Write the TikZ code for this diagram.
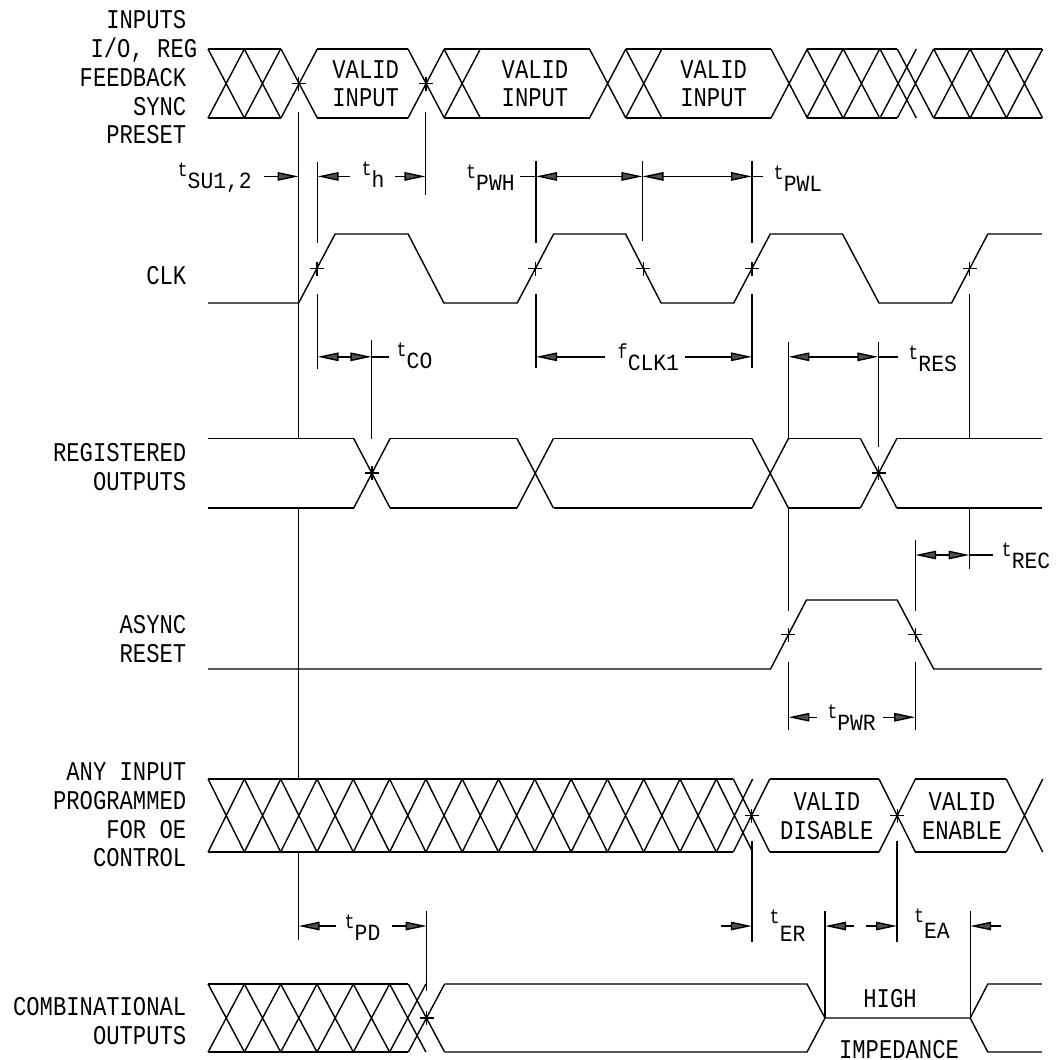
\documentclass[tikz,border=0pt]{standalone}
\usepackage{fontspec}
\usetikzlibrary{arrows.meta}
\newfontfamily\lblfont[FakeStretch=0.82]{Liberation Mono}
\newfontfamily\subfnt[FakeStretch=0.92]{Liberation Mono}
\definecolor{headgray}{RGB}{80,80,80}
\newcommand{\sigfont}{\fontsize{7.7}{8.2}\selectfont\lblfont}
\newcommand{\tlbl}[3][3.4pt]{\raisebox{#1}{\fontsize{5.8}{6}\selectfont\lblfont #2}{\fontsize{6.6}{7}\selectfont\subfnt #3}}

\begin{document}
\begin{tikzpicture}[x=0.01cm, y=-0.01cm, line width=0.4pt,
    dim/.style={-{Triangle[length=2.1mm,width=0.85mm,fill=headgray]}},
    dimboth/.style={{Triangle[length=2.1mm,width=0.85mm,fill=headgray]}-{Triangle[length=2.1mm,width=0.85mm,fill=headgray]}},
    sigtext/.style={font=\sigfont, inner sep=0pt, align=right, anchor=east},
    bustext/.style={font=\sigfont, inner sep=0pt, align=center},
    timetext/.style={inner sep=0pt, anchor=base west}]
  \useasboundingbox (0,0) rectangle (1061,1059);

  % Signal names
  \node[sigtext] (lbl-in) at (187,77.3) {INPUTS\\I/O, REG\kern-3.1pt\\FEEDBACK\\SYNC\\PRESET};
  \node[sigtext] (lbl-clk) at (187,275.4) {CLK};
  \node[sigtext] (lbl-reg) at (187,466.9) {REGISTERED\\OUTPUTS};
  \node[sigtext] (lbl-rst) at (187,639.2) {ASYNC\\RESET};
  \node[sigtext] (lbl-oe) at (187,814.8) {ANY INPUT\\PROGRAMMED\\FOR OE\\CONTROL};
  \node[sigtext] (lbl-comb) at (187,1020.9) {COMBINATIONAL\\OUTPUTS};

  % Inputs bus
  \foreach \a/\b in {208/281, 317/408, 444/589.5, 625.6/771, 806.7/897.3, 933.7/1041.8}
    \draw (\a,49) -- (\b,49) (\a,118) -- (\b,118);
  \foreach \x in {208, 244.3, 281, 408, 444, 589.5, 625.6, 771, 806.7, 843.3, 880,
                  897.3, 933.7, 970.2, 1006.3}
    \draw (\x,49) -- ({\x+36.3},118) (\x,118) -- ({\x+36.3},49);
  \node[bustext] (valid-a) at (365.7,83.7) {VALID\\INPUT};
  \node[bustext] (valid-b) at (535,83.7) {VALID\\INPUT};
  \node[bustext] (valid-c) at (713.6,83.7) {VALID\\INPUT};

  % Clock
  \draw (208,303) -- (298.6,303) -- (335.1,234) -- (408.1,234) -- (443.9,303)
    -- (517.2,303) -- (553.6,234) -- (625.6,234) -- (661.1,303) -- (733.7,303)
    -- (770.2,234) -- (842.5,234) -- (879,303) -- (951.6,303) -- (987.8,234)
    -- (1041.8,234);

  % Registered outputs
  \foreach \a/\b in {208/353.7, 390.2/517, 553.6/752, 788.4/860.4, 897.2/1041.8}
    \draw (\a,438.5) -- (\b,438.5) (\a,508) -- (\b,508);
  \foreach \x in {353.7, 517, 752, 860.4}
    \draw (\x,438.5) -- ({\x+36.4},508) (\x,508) -- ({\x+36.4},438.5);

  % Async reset
  \draw (208,669) -- (770.5,669) -- (806.4,600) -- (897.2,600) -- (933.7,669)
    -- (1041.8,669);

  % OE control bus
  \draw (208,779) -- (733.3,779) (208,852) -- (733.3,852);
  \draw (769.8,779) -- (879,779) (769.8,852) -- (879,852);
  \draw (915.3,779) -- (1006.3,779) (915.3,852) -- (1006.3,852);
  \foreach \k in {0,...,14}
    \draw ({208.1+36.3*\k},779) -- ({244.4+36.3*\k},852)
          ({208.1+36.3*\k},852) -- ({244.4+36.3*\k},779);
  \foreach \x in {733.3, 879, 1006.3}
    \draw (\x,779) -- ({\x+36.4},852) (\x,852) -- ({\x+36.4},779);
  \node[bustext] (valid-dis) at (826.8,816) {VALID\\DISABLE};
  \node[bustext] (valid-en) at (962,816) {VALID\\ENABLE};

  % Combinational outputs
  \draw (208,984) -- (408.3,984) (208,1052) -- (408.3,1052);
  \foreach \k in {0,...,5}
    \draw ({208.1+36.3*\k},984) -- ({244.4+36.3*\k},1052)
          ({208.1+36.3*\k},1052) -- ({244.4+36.3*\k},984);
  \draw (408.3,984) -- (444.6,1052) (408.3,1052) -- (444.6,984);
  \draw (444.6,984) -- (807,984) -- (825,1018) -- (970.2,1018) -- (987.8,984) -- (1041.8,984);
  \draw (444.6,1052) -- (807,1052) -- (825,1018);
  \draw (970.2,1018) -- (987.8,1052) -- (1041.8,1052);
  \node[bustext] (hiz-a) at (890,999) {HIGH};
  \node[bustext] (hiz-b) at (899,1050) {IMPEDANCE};

  % Crossing marks
  \foreach \x/\y in {298.6/83.5, 426/83.5, 317/268.5, 535.4/268.5, 643.4/268.5,
                     752/268.5, 969.7/268.5, 372/473, 878.6/473, 788.4/634.5,
                     915.4/634.5, 751.5/815.5, 897.2/815.5, 426.5/1018}
    \draw ({\x-7},\y) -- ({\x+7},\y) (\x,{\y-7}) -- (\x,{\y+7});

  % Extension lines
  \draw (298.6,111.5) -- (298.6,438.5) (298.6,508) -- (298.6,779) (298.6,852) -- (298.6,940);
  \draw (317.6,162) -- (317.6,242.6) (317.6,294) -- (317.6,369.3);
  \draw (425.5,111.5) -- (425.5,195.3);
  \draw (536,160.5) -- (536,242.6) (536,294) -- (536,367.6);
  \draw (642.5,160.5) -- (642.5,240.5);
  \draw (752,160.5) -- (752,242.6) (752,294) -- (752,367.6);
  \draw (371.5,340) -- (371.5,438.5);
  \draw (788.4,342.2) -- (788.4,438.5) (788.4,508) -- (788.4,610.8) (788.4,661.5) -- (788.4,730);
  \draw (878.3,342.2) -- (878.3,447);
  \draw (969.5,294) -- (969.5,438.5) (969.5,508) -- (969.5,568.6);
  \draw (915.2,540) -- (915.2,610.8) (915.2,661.5) -- (915.2,730);
  \draw (426.7,911.4) -- (426.7,991);
  \draw (751.8,841) -- (751.8,941.8);
  \draw (825,911.4) -- (825,1018);
  \draw (897,840.5) -- (897,941.8);
  \draw (970.2,911.4) -- (970.2,1018);

  % Setup, hold and clock widths
  \draw[dim] (264,176.4) -- (298.6,176.4);
  \draw[dim] (349.7,176.4) -- (317.6,176.4);
  \draw[dim] (395,176.4) -- (425.5,176.4);
  \draw (520,176.4) -- (536,176.4) (752,176.4) -- (763,176.4);
  \draw[dimboth] (536,176.4) -- (642.5,176.4);
  \draw[dimboth] (642.5,176.4) -- (752,176.4);
  \node[timetext] (t-su) at (177,188) {\tlbl{t}{SU1,2}};
  \node[timetext] (t-h) at (360.8,187.5) {\tlbl{t}{h}};
  \node[timetext] (t-pwh) at (465.5,190) {\tlbl{t}{PWH}};
  \node[timetext] (t-pwl) at (773,191) {\tlbl{t}{PWL}};

  % Clock to output, clock period, reset
  \draw[dimboth] (317.6,356.8) -- (371.5,356.8);
  \draw (371.5,356.8) -- (388.5,356.8);
  \draw[dim] (605,356.8) -- (536,356.8);
  \draw[dim] (685.4,356.8) -- (752,356.8);
  \draw[dimboth] (788.4,356.8) -- (878.3,356.8);
  \draw (878.3,356.8) -- (898.2,356.8);
  \draw[dimboth] (915.2,555) -- (969.5,555);
  \draw (969.5,555) -- (992.8,555);
  \draw[dim] (817,717.2) -- (788.4,717.2);
  \draw[dim] (883,717.2) -- (915.2,717.2);
  \node[timetext] (t-co) at (396,368.6) {\tlbl{t}{CO}};
  \node[timetext] (f-clk) at (617,370) {\tlbl{f}{CLK1}};
  \node[timetext] (t-res) at (907.7,371) {\tlbl{t}{RES}};
  \node[timetext] (t-rec) at (1001,568.6) {\tlbl{t}{REC}};
  \node[timetext] (t-pwr) at (826.6,730) {\tlbl{t}{PWR}};

  % Propagation, enable and disable
  \draw[dim] (336,926) -- (298.6,926);
  \draw[dim] (392,926) -- (426.7,926);
  \draw[dim] (720.9,926) -- (751.8,926);
  \draw[dim] (854.3,926) -- (825,926);
  \draw[dim] (866,926) -- (897,926);
  \draw[dim] (1001.3,926) -- (970.2,926);
  \node[timetext] (t-pd) at (344,940) {\tlbl{t}{PD}};
  \node[timetext] (t-er) at (769,941.8) {\tlbl[5.3pt]{t}{ER}};
  \node[timetext] (t-ea) at (913.4,938.4) {\tlbl[4.5pt]{t}{EA}};
\end{tikzpicture}
\end{document}
